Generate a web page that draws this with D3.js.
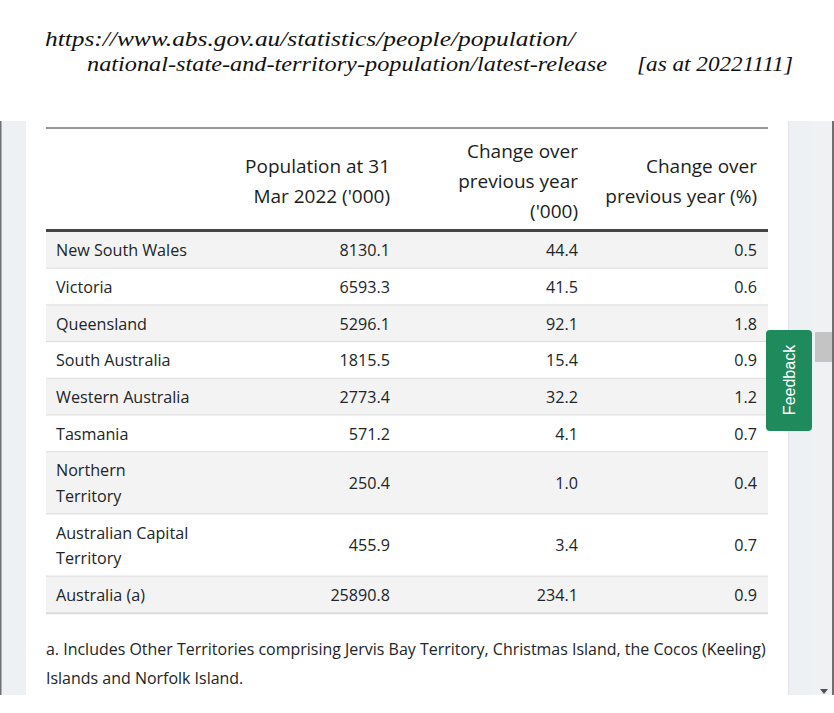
<!DOCTYPE html>
<html><head><meta charset="utf-8">
<script src="https://cdn.jsdelivr.net/npm/d3@7"></script>
<style>html,body{margin:0;padding:0;background:#fff;overflow:hidden}</style>
</head><body>
<script>
// ---------- data ----------
const titleLine1 = "https://www.abs.gov.au/statistics/people/population/";
const titleLine2 = "national-state-and-territory-population/latest-release";
const titleDate = "[as at 20221111]";
const columnHeaders = [[""], ["Population at 31", "Mar 2022 ('000)"], ["Change over", "previous year", "('000)"], ["Change over", "previous year (%)"]];
const regions = ["New South Wales", "Victoria", "Queensland", "South Australia", "Western Australia", "Tasmania", "Northern Territory", "Australian Capital Territory", "Australia (a)"];
const population = [8130.1, 6593.3, 5296.1, 1815.5, 2773.4, 571.2, 250.4, 455.9, 25890.8];
const changeAbs = [44.4, 41.5, 92.1, 15.4, 32.2, 4.1, 1.0, 3.4, 234.1];
const changePct = [0.5, 0.6, 1.8, 0.9, 1.2, 0.7, 0.4, 0.7, 0.9];
const footnoteLines = ["a. Includes Other Territories comprising Jervis Bay Territory, Christmas Island, the Cocos (Keeling)", "Islands and Norfolk Island."];
const feedbackLabel = "Feedback";

// ---------- setup ----------
const W = 834, H = 713;
const svg = d3.select("body").append("svg").attr("width", W).attr("height", H);
const SANS = "'Open Sans', 'Noto Sans', sans-serif";
const SERIF = "'Liberation Serif', 'Times New Roman', serif";
const TXT = "#212529";

function measure(text, family, size, style) {
  const t = svg.append("text").attr("font-family", family).attr("font-size", size)
    .attr("font-style", style || "normal").text(text);
  const w = t.node().getComputedTextLength(); t.remove(); return w;
}
function fit(text, family, target, style) { return 100 * target / measure(text, family, 100, style); }

const bodySize = fit("New South Wales", SANS, 131);
const headSize = fit("Population at 31", SANS, 145);
const footSize = fit(footnoteLines[0], SANS, 720);

// ---------- title ----------
const titleSize = 21.5;
const title = svg.append("g").attr("font-family", SERIF).attr("font-style", "italic").attr("fill", "#111")
  .attr("font-size", titleSize);
title.append("text").attr("x", 45).attr("y", 46).attr("textLength", 530).attr("lengthAdjust", "spacingAndGlyphs").text(titleLine1);
title.append("text").attr("x", 87).attr("y", 71).attr("textLength", 520).attr("lengthAdjust", "spacingAndGlyphs").text(titleLine2);
title.append("text").attr("x", 637).attr("y", 71).attr("textLength", 156).attr("lengthAdjust", "spacingAndGlyphs").text(titleDate);

// ---------- browser frame ----------
const frameTop = 121, frameBot = 695;
svg.append("rect").attr("x", 0).attr("y", frameTop).attr("width", W).attr("height", frameBot - frameTop).attr("fill", "#eef1f4");
svg.append("rect").attr("x", 26).attr("y", frameTop).attr("width", 762).attr("height", frameBot - frameTop).attr("fill", "#fff");
svg.append("rect").attr("x", 788).attr("y", frameTop).attr("width", 1).attr("height", frameBot - frameTop).attr("fill", "#dfe2e6");
svg.append("rect").attr("x", 813).attr("y", frameTop).attr("width", 20).attr("height", frameBot - frameTop).attr("fill", "#f0f1f3");
svg.append("rect").attr("x", 0).attr("y", frameTop).attr("width", 1.5).attr("height", frameBot - frameTop).attr("fill", "#707070");
svg.append("rect").attr("x", 832).attr("y", frameTop).attr("width", 2).attr("height", frameBot - frameTop).attr("fill", "#707070");
svg.append("rect").attr("x", 815).attr("y", 332).attr("width", 17).attr("height", 30).attr("fill", "#c4c4c4");
svg.append("path").attr("d", "M820,689 L828,689 L824,694 Z").attr("fill", "#505050");

// ---------- table ----------
const tableX0 = 46, tableX1 = 768;
const colKeys = ["name", "pop", "chg", "pct"];
const colX = d3.scaleOrdinal().domain(colKeys).range([56, 390, 578, 757]);
const colAnchor = d3.scaleOrdinal().domain(colKeys).range(["start", "end", "end", "end"]);

// header
svg.append("line").attr("x1", tableX0).attr("x2", tableX1).attr("y1", 128).attr("y2", 128).attr("stroke", "#333").attr("stroke-width", 1);
const headMid = 181, headLH = 30;
const hg = svg.append("g").attr("font-family", SANS).attr("font-size", headSize).attr("fill", "#1a1d20");
columnHeaders.forEach((lines, i) => {
  const k = colKeys[i];
  lines.forEach((ln, j) => {
    hg.append("text").attr("x", colX(k)).attr("text-anchor", colAnchor(k))
      .attr("y", headMid + (j - (lines.length - 1) / 2) * headLH).attr("dy", "0.36em").text(ln);
  });
});
svg.append("rect").attr("x", tableX0).attr("y", 229).attr("width", tableX1 - tableX0).attr("height", 3).attr("fill", "#444");

// wrap names
const nameMax = 136;
function wrap(str) {
  const words = str.split(" "), out = []; let cur = "";
  words.forEach(w => {
    const test = cur ? cur + " " + w : w;
    if (cur && measure(test, SANS, bodySize) > nameMax) { out.push(cur); cur = w; } else cur = test;
  });
  out.push(cur); return out;
}
const fmt = d3.format(".1f");
const rowsData = regions.map((r, i) => ({ lines: wrap(r), pop: population[i], chg: changeAbs[i], pct: changePct[i] }));
const lineH = 25.5, rowPad = 11.2;
let y = 232;
rowsData.forEach(d => { d.y = y; d.h = rowPad + lineH * d.lines.length; y += d.h; });

const rg = svg.append("g").attr("font-family", SANS).attr("font-size", bodySize).attr("fill", TXT);
const rows = rg.selectAll("g.row").data(rowsData).join("g").attr("class", "row")
  .attr("transform", d => `translate(0,${d.y})`);
rows.append("rect").attr("x", tableX0).attr("width", tableX1 - tableX0).attr("height", d => d.h)
  .attr("fill", (d, i) => i % 2 === 0 ? "#f3f3f3" : "#fff");
rows.append("rect").attr("x", tableX0).attr("y", d => d.h - 1).attr("width", tableX1 - tableX0).attr("height", 2).attr("fill", "#dcdcdc");
rows.each(function (d) {
  const g = d3.select(this), mid = d.h / 2;
  d.lines.forEach((ln, j) => {
    g.append("text").attr("x", colX("name")).attr("y", mid + (j - (d.lines.length - 1) / 2) * lineH)
      .attr("dy", "0.36em").text(ln);
  });
  ["pop", "chg", "pct"].forEach(k => {
    g.append("text").attr("x", colX(k)).attr("text-anchor", "end").attr("y", mid).attr("dy", "0.36em").text(fmt(d[k]));
  });
});

// footnote
const fg = svg.append("g").attr("font-family", SANS).attr("font-size", footSize).attr("fill", TXT);
footnoteLines.forEach((ln, i) => fg.append("text").attr("x", 46).attr("y", 649 + i * 29).attr("dy", "0.36em").text(ln));

// feedback tab
svg.append("rect").attr("x", 766).attr("y", 330).attr("width", 46).attr("height", 101).attr("rx", 4).attr("fill", "#1f8a5b");
svg.append("text").attr("transform", "translate(789,380) rotate(-90)").attr("text-anchor", "middle").attr("dy", "0.36em")
  .attr("font-family", "'Liberation Sans', Arial, sans-serif").attr("font-size", 16).attr("fill", "#fff").text(feedbackLabel);
</script>
</body></html>
